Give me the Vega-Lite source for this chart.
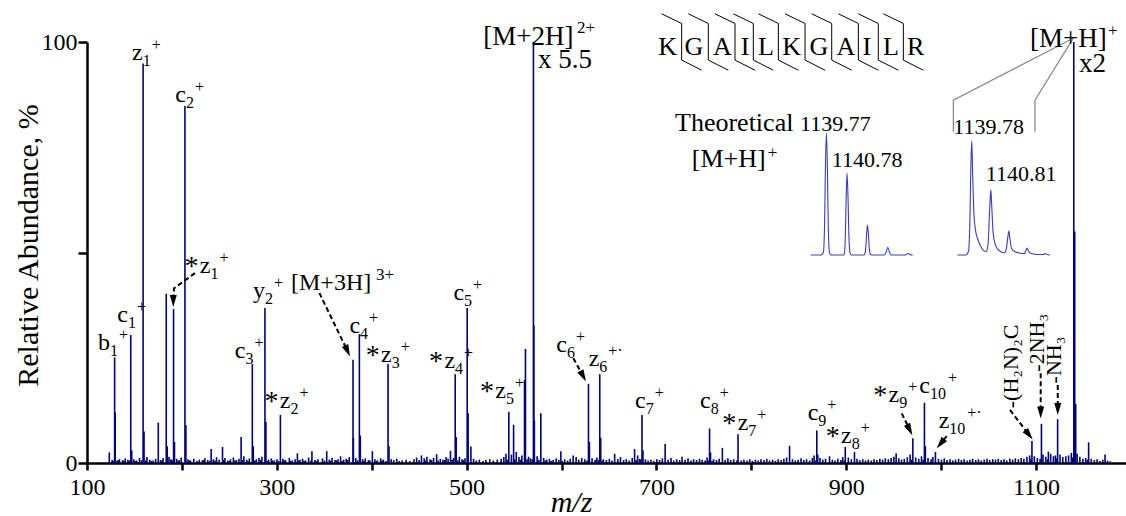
{
"$schema": "https://vega.github.io/schema/vega-lite/v6.json",
"width": 1039,
"height": 421,
"autosize": {"type": "none"},
"padding": {"left": 87, "top": 42, "right": 0, "bottom": 53},
"background": "white",
"config": {"view": {"stroke": null}, "font": "Liberation Serif", "text": {"color": "black", "font": "Liberation Serif"}},
"datasets": {
"spectrum": [
{"mz":123.5,"pct":2.5},{"mz":129.1,"pct":25.1},{"mz":129.7,"pct":12},{"mz":146.1,"pct":30.4},{"mz":147.1,"pct":3},{"mz":159.1,"pct":94.9},{"mz":160.1,"pct":7.5},{"mz":175.1,"pct":9.6},{"mz":183.5,"pct":40.2},{"mz":184.5,"pct":4},{"mz":191.2,"pct":36.6},{"mz":192.2,"pct":5},{"mz":203.2,"pct":84.8},{"mz":204.2,"pct":9},{"mz":230.8,"pct":3.3},{"mz":242.8,"pct":3.8},{"mz":262.4,"pct":6.2},{"mz":274.2,"pct":23.5},{"mz":275.2,"pct":4},{"mz":287.5,"pct":36.8},{"mz":288.5,"pct":9.8},{"mz":303.8,"pct":11.4},{"mz":321.7,"pct":2.3},{"mz":337,"pct":2.8},{"mz":352.6,"pct":2.8},{"mz":380.3,"pct":24.5},{"mz":380.7,"pct":6},{"mz":387,"pct":30.6},{"mz":388,"pct":6.5},{"mz":400.7,"pct":2.8},{"mz":417.2,"pct":23.5},{"mz":418.2,"pct":4},{"mz":483,"pct":2.9},{"mz":488,"pct":21.1},{"mz":489,"pct":6.2},{"mz":500.6,"pct":36.8},{"mz":501.6,"pct":11.8},{"mz":504.5,"pct":3.9},{"mz":544.5,"pct":12.2},{"mz":549.5,"pct":9.1},{"mz":561,"pct":19.7},{"mz":562,"pct":27.1},{"mz":570.4,"pct":100},{"mz":570.9,"pct":32.7},{"mz":571.4,"pct":10},{"mz":578.2,"pct":11.8},{"mz":599.3,"pct":2.8},{"mz":612.3,"pct":1.8},{"mz":628.4,"pct":18.8},{"mz":629.4,"pct":5},{"mz":640.3,"pct":21.1},{"mz":641.3,"pct":6},{"mz":656,"pct":2.2},{"mz":677,"pct":3.3},{"mz":684.8,"pct":11.4},{"mz":685.8,"pct":3},{"mz":709.2,"pct":4.5},{"mz":727,"pct":1.5},{"mz":756,"pct":8.2},{"mz":757,"pct":2.5},{"mz":769.5,"pct":3.6},{"mz":786,"pct":6.8},{"mz":840.3,"pct":4.1},{"mz":869,"pct":7.7},{"mz":870,"pct":2},{"mz":882.4,"pct":1.6},{"mz":899,"pct":3.8},{"mz":908.7,"pct":2.6},{"mz":952.6,"pct":2.3},{"mz":970.2,"pct":5.9},{"mz":982.4,"pct":14.3},{"mz":983.4,"pct":4},{"mz":994,"pct":2.6},{"mz":1095.7,"pct":5.2},{"mz":1105.7,"pct":9.3},{"mz":1113,"pct":2.7},{"mz":1122.75,"pct":10.4},{"mz":1139.78,"pct":100},{"mz":1140.78,"pct":55},{"mz":1141.8,"pct":14},{"mz":1155.4,"pct":4.9},{"mz":1172.7,"pct":2},
{"mz":126.5,"pct":0.8},{"mz":131.8,"pct":0.6},{"mz":134.2,"pct":0.9},{"mz":137.5,"pct":0.7},{"mz":140.3,"pct":1.1},{"mz":143.1,"pct":0.8},{"mz":149.2,"pct":0.9},{"mz":152.4,"pct":0.6},{"mz":155.3,"pct":1.2},{"mz":157.4,"pct":0.7},{"mz":163.2,"pct":1.4},{"mz":166.1,"pct":0.8},{"mz":169.5,"pct":0.6},{"mz":172.3,"pct":1.0},{"mz":177.4,"pct":0.7},{"mz":180.2,"pct":1.2},{"mz":186.4,"pct":1.5},{"mz":188.3,"pct":0.9},{"mz":194.5,"pct":1.0},{"mz":197.2,"pct":0.7},{"mz":199.3,"pct":1.3},{"mz":206.4,"pct":0.9},{"mz":209.1,"pct":0.6},{"mz":212.5,"pct":1.0},{"mz":218.3,"pct":0.8},{"mz":221.4,"pct":0.6},{"mz":224.2,"pct":1.1},{"mz":227.3,"pct":0.7},{"mz":233.1,"pct":0.9},{"mz":236.5,"pct":1.4},{"mz":239.2,"pct":0.8},{"mz":245.3,"pct":1.2},{"mz":248.4,"pct":0.6},{"mz":251.2,"pct":0.9},{"mz":254.3,"pct":1.3},{"mz":257.5,"pct":0.7},{"mz":260.1,"pct":1.0},{"mz":265.3,"pct":1.6},{"mz":268.2,"pct":0.8},{"mz":271.1,"pct":1.1},{"mz":278.4,"pct":0.9},{"mz":281.2,"pct":1.2},{"mz":284.3,"pct":1.5},{"mz":291.3,"pct":0.8},{"mz":294.2,"pct":1.1},{"mz":297.4,"pct":0.6},{"mz":300.2,"pct":0.9},{"mz":306.4,"pct":1.0},{"mz":309.1,"pct":0.7},{"mz":313.2,"pct":1.2},{"mz":316.4,"pct":0.6},{"mz":319.3,"pct":0.9},{"mz":324.5,"pct":0.8},{"mz":327.2,"pct":1.0},{"mz":330.4,"pct":0.6},{"mz":333.5,"pct":1.3},{"mz":340.2,"pct":0.7},{"mz":343.4,"pct":0.9},{"mz":348.1,"pct":1.1},{"mz":355.3,"pct":0.8},{"mz":358.2,"pct":1.2},{"mz":361.4,"pct":0.7},{"mz":364.5,"pct":0.9},{"mz":367.2,"pct":1.6},{"mz":370.4,"pct":0.8},{"mz":373.1,"pct":1.0},{"mz":376.3,"pct":1.4},{"mz":383.2,"pct":1.2},{"mz":390.4,"pct":0.9},{"mz":393.2,"pct":1.1},{"mz":396.5,"pct":0.7},{"mz":403.3,"pct":0.9},{"mz":406.1,"pct":0.6},{"mz":409.4,"pct":1.1},{"mz":412.3,"pct":0.8},{"mz":420.5,"pct":0.9},{"mz":423.2,"pct":0.7},{"mz":426.4,"pct":1.0},{"mz":432.1,"pct":0.6},{"mz":436.3,"pct":0.8},{"mz":440.2,"pct":0.5},{"mz":444.5,"pct":0.9},{"mz":447.3,"pct":1.3},{"mz":452.4,"pct":1.8},{"mz":455.3,"pct":1.1},{"mz":458.2,"pct":1.5},{"mz":461.4,"pct":0.9},{"mz":465.2,"pct":1.2},{"mz":468.4,"pct":2.1},{"mz":472.3,"pct":1.0},{"mz":475.1,"pct":0.8},{"mz":478.4,"pct":1.4},{"mz":480.5,"pct":1.0},{"mz":486.3,"pct":1.2},{"mz":492.4,"pct":1.5},{"mz":495.2,"pct":0.9},{"mz":498.3,"pct":1.1},{"mz":507.3,"pct":1.0},{"mz":510.2,"pct":0.6},{"mz":513.4,"pct":0.8},{"mz":517.2,"pct":0.5},{"mz":520.3,"pct":0.7},{"mz":524.4,"pct":0.9},{"mz":528.1,"pct":0.6},{"mz":532.3,"pct":0.8},{"mz":536.4,"pct":1.0},{"mz":539.2,"pct":1.4},{"mz":541.5,"pct":2.2},{"mz":547.2,"pct":2.0},{"mz":552.3,"pct":2.6},{"mz":555.1,"pct":1.4},{"mz":558.2,"pct":1.8},{"mz":565.3,"pct":1.5},{"mz":567.2,"pct":1.1},{"mz":574.3,"pct":1.6},{"mz":581.2,"pct":1.2},{"mz":584.4,"pct":0.8},{"mz":587.3,"pct":1.0},{"mz":591.2,"pct":0.7},{"mz":594.4,"pct":1.1},{"mz":597.2,"pct":0.8},{"mz":603.3,"pct":0.9},{"mz":606.4,"pct":0.6},{"mz":609.2,"pct":1.0},{"mz":615.4,"pct":1.4},{"mz":618.2,"pct":0.8},{"mz":621.3,"pct":1.2},{"mz":624.5,"pct":0.9},{"mz":632.2,"pct":1.1},{"mz":635.4,"pct":0.8},{"mz":637.3,"pct":1.3},{"mz":644.2,"pct":0.9},{"mz":647.3,"pct":0.7},{"mz":650.4,"pct":1.0},{"mz":653.2,"pct":0.6},{"mz":659.3,"pct":0.9},{"mz":662.1,"pct":1.4},{"mz":665.4,"pct":0.7},{"mz":668.2,"pct":0.9},{"mz":671.3,"pct":0.6},{"mz":674.5,"pct":1.2},{"mz":680.2,"pct":1.8},{"mz":682.3,"pct":1.0},{"mz":688.4,"pct":0.9},{"mz":691.2,"pct":0.6},{"mz":694.3,"pct":0.8},{"mz":697.2,"pct":0.5},{"mz":700.4,"pct":0.9},{"mz":703.3,"pct":0.7},{"mz":706.2,"pct":1.1},{"mz":712.3,"pct":0.8},{"mz":715.4,"pct":1.2},{"mz":718.2,"pct":0.6},{"mz":721.3,"pct":0.9},{"mz":724.4,"pct":0.7},{"mz":730.2,"pct":0.8},{"mz":733.3,"pct":1.1},{"mz":736.4,"pct":0.6},{"mz":739.2,"pct":0.9},{"mz":742.3,"pct":0.7},{"mz":745.4,"pct":1.0},{"mz":748.2,"pct":0.8},{"mz":751.3,"pct":0.6},{"mz":753.4,"pct":1.3},{"mz":760.2,"pct":0.9},{"mz":763.3,"pct":0.7},{"mz":766.1,"pct":1.0},{"mz":772.4,"pct":0.8},{"mz":775.3,"pct":1.1},{"mz":778.2,"pct":0.7},{"mz":781.4,"pct":0.9},{"mz":789.3,"pct":0.6},{"mz":792.2,"pct":0.8},{"mz":795.4,"pct":0.6},{"mz":798.3,"pct":0.9},{"mz":801.2,"pct":0.5},{"mz":804.4,"pct":0.8},{"mz":807.3,"pct":0.6},{"mz":810.2,"pct":0.9},{"mz":813.4,"pct":0.7},{"mz":816.3,"pct":1.0},{"mz":819.2,"pct":0.6},{"mz":822.4,"pct":0.8},{"mz":825.3,"pct":0.5},{"mz":828.2,"pct":0.9},{"mz":831.4,"pct":0.7},{"mz":834.3,"pct":1.0},{"mz":837.2,"pct":1.3},{"mz":843.4,"pct":0.9},{"mz":846.3,"pct":0.6},{"mz":849.2,"pct":0.8},{"mz":852.4,"pct":1.1},{"mz":855.3,"pct":0.7},{"mz":858.2,"pct":0.9},{"mz":861.4,"pct":0.6},{"mz":864.3,"pct":1.2},{"mz":866.2,"pct":1.8},{"mz":872.4,"pct":1.2},{"mz":875.3,"pct":0.8},{"mz":878.2,"pct":1.0},{"mz":885.4,"pct":0.8},{"mz":888.3,"pct":0.6},{"mz":891.2,"pct":1.0},{"mz":894.4,"pct":0.7},{"mz":896.3,"pct":1.4},{"mz":902.2,"pct":1.3},{"mz":905.4,"pct":0.9},{"mz":911.3,"pct":1.0},{"mz":914.2,"pct":0.7},{"mz":917.4,"pct":0.9},{"mz":920.3,"pct":0.6},{"mz":923.2,"pct":0.8},{"mz":926.4,"pct":0.6},{"mz":929.3,"pct":0.9},{"mz":932.2,"pct":0.7},{"mz":935.4,"pct":1.0},{"mz":938.3,"pct":0.8},{"mz":941.2,"pct":1.1},{"mz":944.4,"pct":0.9},{"mz":947.3,"pct":1.2},{"mz":950.2,"pct":1.5},{"mz":955.4,"pct":1.1},{"mz":958.3,"pct":0.8},{"mz":961.2,"pct":1.0},{"mz":964.4,"pct":1.4},{"mz":967.3,"pct":2.0},{"mz":973.2,"pct":1.3},{"mz":976.4,"pct":1.0},{"mz":979.3,"pct":1.6},{"mz":986.2,"pct":1.2},{"mz":989.4,"pct":0.9},{"mz":991.3,"pct":1.4},{"mz":997.2,"pct":1.0},{"mz":1000.4,"pct":0.8},{"mz":1003.3,"pct":1.1},{"mz":1006.2,"pct":0.7},{"mz":1009.4,"pct":0.9},{"mz":1012.3,"pct":0.6},{"mz":1015.2,"pct":0.8},{"mz":1018.4,"pct":1.0},{"mz":1021.3,"pct":0.7},{"mz":1024.2,"pct":0.9},{"mz":1027.4,"pct":0.6},{"mz":1030.3,"pct":0.8},{"mz":1033.2,"pct":1.0},{"mz":1036.4,"pct":0.7},{"mz":1039.3,"pct":0.9},{"mz":1042.2,"pct":0.6},{"mz":1045.4,"pct":0.8},{"mz":1048.3,"pct":1.0},{"mz":1051.2,"pct":0.7},{"mz":1054.4,"pct":0.9},{"mz":1057.3,"pct":0.8},{"mz":1060.2,"pct":1.0},{"mz":1063.4,"pct":0.7},{"mz":1066.3,"pct":0.9},{"mz":1069.2,"pct":0.6},{"mz":1072.4,"pct":1.0},{"mz":1075.3,"pct":0.8},{"mz":1078.2,"pct":1.1},{"mz":1081.4,"pct":0.9},{"mz":1084.3,"pct":1.2},{"mz":1087.2,"pct":1.0},{"mz":1090.4,"pct":1.5},{"mz":1093.3,"pct":1.8},{"mz":1098.2,"pct":1.6},{"mz":1101.4,"pct":1.2},{"mz":1107.3,"pct":2.0},{"mz":1110.2,"pct":1.5},{"mz":1115.4,"pct":2.2},{"mz":1118.3,"pct":1.6},{"mz":1120.4,"pct":1.8},{"mz":1125.3,"pct":2.0},{"mz":1128.2,"pct":1.4},{"mz":1131.4,"pct":1.6},{"mz":1134.3,"pct":1.8},{"mz":1137.2,"pct":2.4},{"mz":1143.3,"pct":2.2},{"mz":1146.2,"pct":1.5},{"mz":1149.4,"pct":1.0},{"mz":1152.3,"pct":1.2},{"mz":1158.2,"pct":1.0},{"mz":1161.4,"pct":0.7},{"mz":1164.3,"pct":0.9},{"mz":1167.2,"pct":0.5},{"mz":1170.4,"pct":0.8},{"mz":1175.3,"pct":0.6},{"mz":1178.2,"pct":0.4},
{"mz":128.2,"pct":0.5},{"mz":133.0,"pct":0.7},{"mz":138.9,"pct":0.5},{"mz":144.6,"pct":0.6},{"mz":150.8,"pct":0.5},{"mz":161.7,"pct":0.6},{"mz":167.8,"pct":0.5},{"mz":178.9,"pct":0.6},{"mz":189.6,"pct":0.7},{"mz":195.9,"pct":0.5},{"mz":207.8,"pct":0.6},{"mz":215.9,"pct":0.5},{"mz":222.7,"pct":0.7},{"mz":229.5,"pct":0.5},{"mz":234.8,"pct":0.6},{"mz":243.9,"pct":0.7},{"mz":249.8,"pct":0.5},{"mz":255.9,"pct":0.6},{"mz":263.7,"pct":0.7},{"mz":269.6,"pct":0.5},{"mz":276.8,"pct":0.6},{"mz":282.7,"pct":0.7},{"mz":289.8,"pct":0.5},{"mz":295.7,"pct":0.6},{"mz":301.9,"pct":0.5},{"mz":307.8,"pct":0.6},{"mz":314.7,"pct":0.5},{"mz":322.9,"pct":0.6},{"mz":328.8,"pct":0.5},{"mz":335.9,"pct":0.6},{"mz":341.8,"pct":0.5},{"mz":350.2,"pct":0.6},{"mz":356.8,"pct":0.5},{"mz":362.9,"pct":0.6},{"mz":368.7,"pct":0.5},{"mz":374.6,"pct":0.7},{"mz":385.1,"pct":0.6},{"mz":391.8,"pct":0.5},{"mz":398.1,"pct":0.6},{"mz":404.8,"pct":0.5},{"mz":410.9,"pct":0.6},{"mz":415.0,"pct":0.5},{"mz":429.1,"pct":0.5},{"mz":449.9,"pct":0.7},{"mz":456.8,"pct":0.6},{"mz":463.1,"pct":0.7},{"mz":470.1,"pct":0.6},{"mz":476.9,"pct":0.7},{"mz":484.7,"pct":0.8},{"mz":490.7,"pct":0.6},{"mz":496.8,"pct":0.7},{"mz":543.0,"pct":0.8},{"mz":550.8,"pct":0.9},{"mz":556.6,"pct":0.8},{"mz":563.8,"pct":0.9},{"mz":569.1,"pct":0.9},{"mz":576.1,"pct":0.8},{"mz":582.8,"pct":0.6},{"mz":589.2,"pct":0.5},{"mz":600.8,"pct":0.5},{"mz":626.9,"pct":0.6},{"mz":638.9,"pct":0.7},{"mz":642.8,"pct":0.6},{"mz":678.7,"pct":0.7},{"mz":683.4,"pct":0.8},{"mz":754.7,"pct":0.6},{"mz":758.6,"pct":0.5},{"mz":784.6,"pct":0.6},{"mz":868.0,"pct":0.6},{"mz":898.0,"pct":0.6},{"mz":968.8,"pct":0.8},{"mz":981.0,"pct":0.8},{"mz":1094.6,"pct":0.9},{"mz":1104.3,"pct":1.0},{"mz":1112.0,"pct":0.9},{"mz":1121.6,"pct":1.1},{"mz":1138.4,"pct":1.3},{"mz":1141.0,"pct":2.0},{"mz":1154.1,"pct":0.8}
],
"ions": [
{"base":"b","sub":"1","sup":"+","star":false,"mz":124.2,"pct":26.8},
{"base":"c","sub":"1","sup":"+","star":false,"mz":143.2,"pct":33.6},
{"base":"z","sub":"1","sup":"+","star":false,"mz":158.7,"pct":95.7},
{"base":"c","sub":"2","sup":"+","star":false,"mz":204.3,"pct":85.8},
{"base":"z","sub":"1","sup":"+","star":true,"mz":230.1,"pct":45.1},
{"base":"y","sub":"2","sup":"+","star":false,"mz":287.6,"pct":39.1},
{"base":"c","sub":"3","sup":"+","star":false,"mz":267.0,"pct":24.9},
{"base":"z","sub":"2","sup":"+","star":true,"mz":314.4,"pct":13.0},
{"base":"c","sub":"4","sup":"+","star":false,"mz":387.7,"pct":30.8},
{"base":"z","sub":"3","sup":"+","star":true,"mz":421.1,"pct":24.1},
{"base":"c","sub":"5","sup":"+","star":false,"mz":497.3,"pct":38.7},
{"base":"z","sub":"4","sup":"+","star":true,"mz":487.8,"pct":22.5},
{"base":"z","sub":"5","sup":"+","star":true,"mz":541.5,"pct":15.4},
{"base":"c","sub":"6","sup":"+","star":false,"mz":605.8,"pct":26.4},
{"base":"z","sub":"6","sup":"+·","star":false,"mz":639.8,"pct":23.0},
{"base":"c","sub":"7","sup":"+","star":false,"mz":688.7,"pct":13.1},
{"base":"c","sub":"8","sup":"+","star":false,"mz":757.2,"pct":13.0},
{"base":"z","sub":"7","sup":"+","star":true,"mz":796.8,"pct":7.8},
{"base":"c","sub":"9","sup":"+","star":false,"mz":870.6,"pct":10.2},
{"base":"z","sub":"8","sup":"+","star":true,"mz":905.8,"pct":4.7},
{"base":"z","sub":"9","sup":"+","star":true,"mz":955.9,"pct":14.6},
{"base":"c","sub":"10","sup":"+","star":false,"mz":988.3,"pct":16.6},
{"base":"z","sub":"10","sup":"+·","star":false,"mz":1008.6,"pct":8.2}
],
"notes": [
{"text":"[M+2H]","role":"big","mz":517.6,"pct":99.3},
{"text":"2+","role":"sup","mz":616.2,"pct":102.1},
{"text":"x 5.5","role":"big","mz":575.2,"pct":93.8},
{"text":"[M+3H]","role":"ion","mz":315.0,"pct":41.1},
{"text":"3+","role":"sup","mz":404.5,"pct":43.5},
{"text":"[M+H]","role":"big","mz":1093.7,"pct":98.9},
{"text":"+","role":"sup","mz":1175.9,"pct":101.4},
{"text":"x2","role":"big","mz":1145.3,"pct":92.9},
{"text":"Theoretical","role":"mid","mz":719.6,"pct":78.9},
{"text":"[M+H]","role":"mid","mz":737.2,"pct":70.4},
{"text":"+","role":"sup","mz":817.3,"pct":72.4},
{"text":"1139.77","role":"mass","mz":851.3,"pct":78.9},
{"text":"1140.78","role":"mass","mz":884.7,"pct":70.4},
{"text":"1139.78","role":"mass","mz":1012.9,"pct":78.1},
{"text":"1140.81","role":"mass","mz":1047.0,"pct":67.1}
],
"losses": [
{"text":"-(H₂N)₂C","mz":1081.0,"pct":13.0},
{"text":"-2NH₃","mz":1108.4,"pct":21.7},
{"text":"-NH₃","mz":1126.4,"pct":18.9}
],
"sequence": [
{"residue":"K","mz":711.7,"pct":96.9},{"residue":"G","mz":739.6,"pct":96.9},{"residue":"A","mz":769.4,"pct":96.9},{"residue":"I","mz":793.4,"pct":96.9},{"residue":"L","mz":815.3,"pct":96.9},{"residue":"K","mz":842.6,"pct":96.9},{"residue":"G","mz":871.3,"pct":96.9},{"residue":"A","mz":899.6,"pct":96.9},{"residue":"I","mz":921.6,"pct":96.9},{"residue":"L","mz":947.0,"pct":96.9},{"residue":"R","mz":973.3,"pct":96.9}
],
"cleavages": [
{"site":1,"step":1,"mz":705.5,"pct":106.7},{"site":1,"step":2,"mz":726.6,"pct":104.4},{"site":1,"step":3,"mz":726.6,"pct":95.7},{"site":1,"step":4,"mz":747.7,"pct":93.3},
{"site":2,"step":1,"mz":733.6,"pct":106.7},{"site":2,"step":2,"mz":754.7,"pct":104.4},{"site":2,"step":3,"mz":754.7,"pct":95.7},{"site":2,"step":4,"mz":775.8,"pct":93.3},
{"site":3,"step":1,"mz":761.7,"pct":106.7},{"site":3,"step":2,"mz":782.8,"pct":104.4},{"site":3,"step":3,"mz":782.8,"pct":95.7},{"site":3,"step":4,"mz":803.9,"pct":93.3},
{"site":4,"step":1,"mz":781.0,"pct":106.7},{"site":4,"step":2,"mz":802.1,"pct":104.4},{"site":4,"step":3,"mz":802.1,"pct":95.7},{"site":4,"step":4,"mz":823.2,"pct":93.3},
{"site":5,"step":1,"mz":807.4,"pct":106.7},{"site":5,"step":2,"mz":828.5,"pct":104.4},{"site":5,"step":3,"mz":828.5,"pct":95.7},{"site":5,"step":4,"mz":849.6,"pct":93.3},
{"site":6,"step":1,"mz":835.5,"pct":106.7},{"site":6,"step":2,"mz":856.6,"pct":104.4},{"site":6,"step":3,"mz":856.6,"pct":95.7},{"site":6,"step":4,"mz":877.7,"pct":93.3},
{"site":7,"step":1,"mz":863.6,"pct":106.7},{"site":7,"step":2,"mz":884.7,"pct":104.4},{"site":7,"step":3,"mz":884.7,"pct":95.7},{"site":7,"step":4,"mz":905.8,"pct":93.3},
{"site":8,"step":1,"mz":891.7,"pct":106.7},{"site":8,"step":2,"mz":912.8,"pct":104.4},{"site":8,"step":3,"mz":912.8,"pct":95.7},{"site":8,"step":4,"mz":933.9,"pct":93.3},
{"site":9,"step":1,"mz":912.7,"pct":106.7},{"site":9,"step":2,"mz":933.8,"pct":104.4},{"site":9,"step":3,"mz":933.8,"pct":95.7},{"site":9,"step":4,"mz":954.9,"pct":93.3},
{"site":10,"step":1,"mz":939.1,"pct":106.7},{"site":10,"step":2,"mz":960.2,"pct":104.4},{"site":10,"step":3,"mz":960.2,"pct":95.7},{"site":10,"step":4,"mz":981.3,"pct":93.3}
],
"arrows": [
{"arrow":"z1s","step":1,"mz":213.8,"pct":45.1},{"arrow":"z1s","step":2,"mz":191.7,"pct":41.5},{"arrow":"z1s","step":3,"mz":190.9,"pct":38.5},
{"arrow":"m3h","step":1,"mz":344.8,"pct":40.4},{"arrow":"m3h","step":2,"mz":374.5,"pct":26.6},
{"arrow":"c6","step":1,"mz":612.4,"pct":24.9},{"arrow":"c6","step":2,"mz":622.8,"pct":20.6},
{"arrow":"z9s","step":1,"mz":958.5,"pct":11.8},{"arrow":"z9s","step":2,"mz":966.9,"pct":7.9},
{"arrow":"z10","step":1,"mz":1005.9,"pct":6.4},{"arrow":"z10","step":2,"mz":999.4,"pct":4.6},
{"arrow":"guan","step":1,"mz":1072.6,"pct":12.6},{"arrow":"guan","step":2,"mz":1092.6,"pct":6.7},
{"arrow":"nh3x2","step":1,"mz":1104.9,"pct":21.3},{"arrow":"nh3x2","step":2,"mz":1104.9,"pct":12.0},
{"arrow":"nh3","step":1,"mz":1122.9,"pct":18.5},{"arrow":"nh3","step":2,"mz":1122.9,"pct":12.8}
],
"heads": [
{"mz":190.9,"pct":38.5,"heading":0},
{"mz":374.5,"pct":26.6,"heading":-24},
{"mz":622.8,"pct":20.6,"heading":-28},
{"mz":966.9,"pct":7.9,"heading":-26},
{"mz":999.4,"pct":4.6,"heading":39},
{"mz":1092.6,"pct":6.7,"heading":-38},
{"mz":1104.9,"pct":12.0,"heading":0},
{"mz":1122.9,"pct":12.8,"heading":0}
],
"leaders": [
{"leader":"a","step":1,"mz":1139.3,"pct":100.9},{"leader":"a","step":2,"mz":1012.9,"pct":86.2},{"leader":"a","step":3,"mz":1012.9,"pct":78.7},
{"leader":"b","step":1,"mz":1139.3,"pct":100.9},{"leader":"b","step":2,"mz":1098.9,"pct":86.2},{"leader":"b","step":3,"mz":1098.9,"pct":78.7}
],
"theoretical": [
{"mz":1139.0,"rel":0},{"mz":1139.5,"rel":0},{"mz":1139.62,"rel":2},{"mz":1139.68,"rel":25},{"mz":1139.72,"rel":70},{"mz":1139.77,"rel":100},{"mz":1139.82,"rel":70},{"mz":1139.86,"rel":25},{"mz":1139.92,"rel":2},{"mz":1140.0,"rel":0},
{"mz":1140.6,"rel":0},{"mz":1140.66,"rel":2},{"mz":1140.7,"rel":17},{"mz":1140.74,"rel":47},{"mz":1140.78,"rel":67},{"mz":1140.83,"rel":47},{"mz":1140.87,"rel":17},{"mz":1140.93,"rel":1.5},{"mz":1141.0,"rel":0},
{"mz":1141.6,"rel":0},{"mz":1141.66,"rel":1},{"mz":1141.7,"rel":6},{"mz":1141.74,"rel":17},{"mz":1141.78,"rel":24.5},{"mz":1141.83,"rel":17},{"mz":1141.87,"rel":6},{"mz":1141.93,"rel":0.5},{"mz":1142.0,"rel":0},
{"mz":1142.6,"rel":0},{"mz":1142.68,"rel":1.5},{"mz":1142.78,"rel":6.3},{"mz":1142.88,"rel":1.5},{"mz":1142.96,"rel":0},
{"mz":1143.6,"rel":0},{"mz":1143.7,"rel":0.5},{"mz":1143.78,"rel":1.4},{"mz":1143.86,"rel":0.5},{"mz":1144.0,"rel":0}
],
"measured": [
{"mz":1139.0,"rel":0},{"mz":1139.45,"rel":0},{"mz":1139.6,"rel":3},{"mz":1139.68,"rel":30},{"mz":1139.73,"rel":75},{"mz":1139.78,"rel":100},{"mz":1139.83,"rel":70},{"mz":1139.9,"rel":35},{"mz":1140.0,"rel":20},{"mz":1140.1,"rel":14},{"mz":1140.25,"rel":8},{"mz":1140.4,"rel":4},{"mz":1140.55,"rel":3},{"mz":1140.65,"rel":8},{"mz":1140.72,"rel":30},{"mz":1140.77,"rel":48},{"mz":1140.81,"rel":57},{"mz":1140.86,"rel":42},{"mz":1140.93,"rel":20},{"mz":1141.05,"rel":9},{"mz":1141.2,"rel":5},{"mz":1141.4,"rel":2.5},{"mz":1141.55,"rel":2},{"mz":1141.65,"rel":6},{"mz":1141.72,"rel":15},{"mz":1141.78,"rel":21},{"mz":1141.84,"rel":14},{"mz":1141.92,"rel":6},{"mz":1142.1,"rel":3},{"mz":1142.4,"rel":1.5},{"mz":1142.62,"rel":1.2},{"mz":1142.7,"rel":4},{"mz":1142.76,"rel":6},{"mz":1142.82,"rel":4},{"mz":1142.95,"rel":1.5},{"mz":1143.3,"rel":0.5},{"mz":1143.62,"rel":0.4},{"mz":1143.75,"rel":1.2},{"mz":1143.85,"rel":0.4},{"mz":1144.0,"rel":0}
],
"isoTicks": [{"mz":1139},{"mz":1140},{"mz":1141},{"mz":1142},{"mz":1143},{"mz":1144}]
},
"layer": [
{
"encoding": {
"x": {"field":"mz","type":"quantitative",
"scale":{"domain":[100,1194.8],"nice":false,"zero":false},
"axis":{"title":"m/z","titleFont":"Liberation Serif","titleFontSize":30,"titleFontStyle":"italic","titleFontWeight":"normal","titleColor":"black","titleX":484,"titleY":48,"titleBaseline":"alphabetic","titleAlign":"center","titleAnchor":null,
"values":[100,200,300,400,500,600,700,800,900,1000,1100],"labelExpr":"datum.value % 200 == 100 ? datum.label : ''","format":"d",
"labelFont":"Liberation Serif","labelFontSize":24,"labelColor":"black","labelPadding":5,"labelOverlap":false,"labelFlush":false,
"tickSize":7,"tickWidth":2.5,"tickColor":"black","domainColor":"black","domainWidth":2.5,"grid":false}},
"y": {"field":"pct","type":"quantitative",
"scale":{"domain":[0,100],"nice":false,"zero":false},
"axis":{"title":"Relative Abundance, %","titleFont":"Liberation Serif","titleFontSize":30,"titleFontWeight":"normal","titleColor":"black","titleX":-50,"titleY":203,"titleAngle":270,"titleBaseline":"alphabetic","titleAlign":"center","titleAnchor":null,
"values":[0,50,100],"labelExpr":"datum.value == 50 ? '' : datum.label",
"labelFont":"Liberation Serif","labelFontSize":24,"labelColor":"black","labelPadding":1,"labelOverlap":false,
"tickSize":9,"tickWidth":2.5,"tickColor":"black","domainColor":"black","domainWidth":2.5,"grid":false}}
},
"layer": [
{"data":{"name":"spectrum"},"mark":{"type":"rule","color":"#000080","strokeWidth":1.6},"encoding":{"y2":{"datum":0}}},
{"data":{"name":"leaders"},"mark":{"type":"line","color":"#8c8c8c","strokeWidth":1.3},"encoding":{"detail":{"field":"leader"},"order":{"field":"step","type":"quantitative"}}},
{"data":{"name":"cleavages"},"mark":{"type":"line","color":"black","strokeWidth":1},"encoding":{"detail":{"field":"site"},"order":{"field":"step","type":"quantitative"}}},
{"data":{"name":"arrows"},"transform":[{"filter":"datum.arrow != 'z10'"}],"mark":{"type":"line","color":"black","strokeWidth":2,"strokeDash":[5,3]},"encoding":{"detail":{"field":"arrow"},"order":{"field":"step","type":"quantitative"}}},
{"data":{"name":"arrows"},"transform":[{"filter":"datum.arrow == 'z10'"}],"mark":{"type":"line","color":"black","strokeWidth":2},"encoding":{"detail":{"field":"arrow"},"order":{"field":"step","type":"quantitative"}}},
{"data":{"name":"heads"},"mark":{"type":"point","shape":"M-0.35,-0.6L0.35,-0.6L0,0.6Z","filled":true,"color":"black","size":400,"opacity":1},"encoding":{"angle":{"field":"heading","type":"quantitative","scale":null}}},
{"data":{"name":"ions"},"mark":{"type":"text","align":"right","baseline":"alphabetic","fontSize":24},"encoding":{"text":{"field":"base"}}},
{"data":{"name":"ions"},"mark":{"type":"text","align":"left","baseline":"alphabetic","fontSize":16,"dy":6},"encoding":{"text":{"field":"sub"}}},
{"data":{"name":"ions"},"transform":[{"filter":"length(datum.sub) < 2"}],"mark":{"type":"text","align":"left","baseline":"alphabetic","fontSize":16,"dx":9,"dy":-10},"encoding":{"text":{"field":"sup"}}},
{"data":{"name":"ions"},"transform":[{"filter":"length(datum.sub) >= 2"}],"mark":{"type":"text","align":"left","baseline":"alphabetic","fontSize":16,"dx":18,"dy":-10},"encoding":{"text":{"field":"sup"}}},
{"data":{"name":"ions"},"transform":[{"filter":"datum.star"}],"mark":{"type":"text","align":"right","baseline":"alphabetic","fontSize":28,"dx":-12,"dy":2,"text":"*"}},
{"data":{"name":"notes"},"transform":[{"filter":"datum.role == 'big'"}],"mark":{"type":"text","align":"left","baseline":"alphabetic","fontSize":27},"encoding":{"text":{"field":"text"}}},
{"data":{"name":"notes"},"transform":[{"filter":"datum.role == 'mid'"}],"mark":{"type":"text","align":"left","baseline":"alphabetic","fontSize":26},"encoding":{"text":{"field":"text"}}},
{"data":{"name":"notes"},"transform":[{"filter":"datum.role == 'ion'"}],"mark":{"type":"text","align":"left","baseline":"alphabetic","fontSize":24},"encoding":{"text":{"field":"text"}}},
{"data":{"name":"notes"},"transform":[{"filter":"datum.role == 'sup'"}],"mark":{"type":"text","align":"left","baseline":"alphabetic","fontSize":17},"encoding":{"text":{"field":"text"}}},
{"data":{"name":"notes"},"transform":[{"filter":"datum.role == 'mass'"}],"mark":{"type":"text","align":"left","baseline":"alphabetic","fontSize":22},"encoding":{"text":{"field":"text"}}},
{"data":{"name":"losses"},"mark":{"type":"text","align":"left","baseline":"alphabetic","fontSize":22,"angle":270},"encoding":{"text":{"field":"text"}}},
{"data":{"name":"sequence"},"mark":{"type":"text","align":"center","baseline":"alphabetic","fontSize":26},"encoding":{"text":{"field":"residue"}}}
]
},
{
"data":{"name":"theoretical"},
"encoding":{
"x":{"field":"mz","type":"quantitative","scale":{"domain":[1139,1144],"range":[723.7,825.7],"nice":false,"zero":false},"axis":null},
"y":{"field":"rel","type":"quantitative","scale":{"domain":[0,100],"range":[213,90.7],"nice":false,"zero":false},"axis":null}
},
"layer":[
{"mark":{"type":"line","interpolate":"monotone","color":"#3a3ac4","strokeWidth":1.1}},
{"data":{"name":"isoTicks"},"mark":{"type":"line","color":"#666666","strokeWidth":1},"encoding":{"y":{"datum":0}}},
{"data":{"name":"isoTicks"},"mark":{"type":"rule","color":"#666666","strokeWidth":1},"encoding":{"y":{"datum":0},"y2":{"datum":-4}}}
]
},
{
"data":{"name":"measured"},
"encoding":{
"x":{"field":"mz","type":"quantitative","scale":{"domain":[1139,1144],"range":[870.3,963],"nice":false,"zero":false},"axis":null},
"y":{"field":"rel","type":"quantitative","scale":{"domain":[0,100],"range":[213,98.7],"nice":false,"zero":false},"axis":null}
},
"layer":[
{"mark":{"type":"line","interpolate":"monotone","color":"#3a3ac4","strokeWidth":1.1}},
{"data":{"name":"isoTicks"},"mark":{"type":"line","color":"#666666","strokeWidth":1},"encoding":{"y":{"datum":0}}},
{"data":{"name":"isoTicks"},"mark":{"type":"rule","color":"#666666","strokeWidth":1},"encoding":{"y":{"datum":0},"y2":{"datum":-4}}}
]
}
],
"resolve":{"scale":{"x":"independent","y":"independent"}}
}
